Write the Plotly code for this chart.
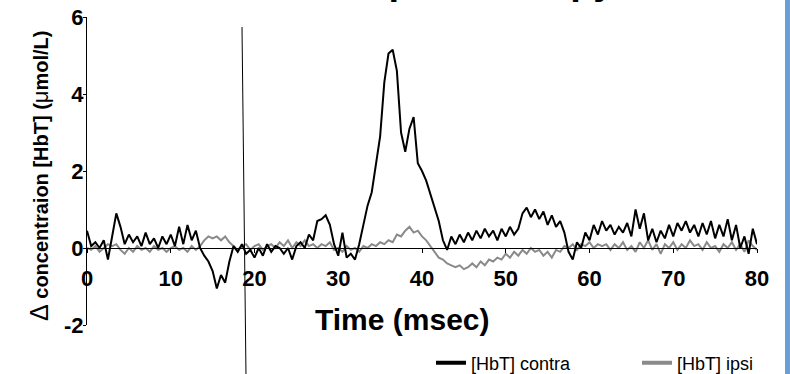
import plotly.graph_objects as go

# sample times (msec), regular 0.5 ms grid
time_ms = [i * 0.5 for i in range(161)]

hbt_contra = [
    0.45, 0.05, 0.15, 0.0, 0.2, -0.3, 0.3, 0.9, 0.55, 0.1,      # 0 - 4.5
    0.35, 0.15, 0.3, 0.05, 0.4, 0.1, 0.25, 0.0, 0.3, 0.1,       # 5 - 9.5
    0.35, 0.05, 0.55, 0.1, 0.6, 0.2, 0.45, 0.0, -0.2, -0.35,    # 10 - 14.5
    -0.6, -1.05, -0.7, -0.9, -0.35, 0.05, -0.1, 0.1, -0.15, -0.05,  # 15 - 19.5
    -0.25, 0.0, -0.2, 0.1, -0.1, 0.05, 0.0, -0.15, 0.0, -0.3,   # 20 - 24.5
    0.05, 0.15, 0.0, 0.35, 0.2, 0.7, 0.75, 0.85, 0.6, 0.1,      # 25 - 29.5
    -0.2, 0.4, -0.25, -0.15, -0.3, 0.1, 0.6, 1.1, 1.45, 2.2,    # 30 - 34.5
    2.9, 4.3, 5.05, 5.15, 4.6, 3.0, 2.5, 3.1, 3.4, 2.2,         # 35 - 39.5
    2.0, 1.75, 1.4, 1.05, 0.7, 0.2, -0.05, 0.3, 0.1, 0.35,      # 40 - 44.5
    0.15, 0.4, 0.2, 0.45, 0.25, 0.5, 0.3, 0.45, 0.2, 0.5,       # 45 - 49.5
    0.3, 0.55, 0.35, 0.5, 0.9, 1.05, 0.8, 1.0, 0.75, 0.95,      # 50 - 54.5
    0.6, 0.85, 0.55, 0.7, 0.4, -0.1, -0.3, 0.15, 0.0, 0.4,      # 55 - 59.5
    0.2, 0.6, 0.35, 0.7, 0.45, 0.6, 0.35, 0.55, 0.4, 0.65,      # 60 - 64.5
    0.3, 1.0, 0.5, 0.9, 0.2, 0.5, 0.15, 0.45, 0.25, 0.6,        # 65 - 69.5
    0.3, 0.65, 0.45, 0.7, 0.4, 0.6, 0.3, 0.65, 0.35, 0.7,       # 70 - 74.5
    0.25, 0.6, 0.3, 0.75, 0.2, 0.6, 0.0, 0.3, -0.15, 0.5,       # 75 - 79.5
    0.1,                                                        # 80
]

hbt_ipsi = [
    0.0, -0.05, 0.05, -0.1, 0.0, 0.1, 0.05, 0.1, -0.05, -0.15,  # 0 - 4.5
    0.0, -0.1, 0.05, -0.05, 0.0, -0.1, 0.05, -0.05, 0.0, -0.1,  # 5 - 9.5
    0.0, 0.05, -0.05, 0.0, -0.1, 0.05, -0.05, 0.05, 0.2, 0.3,   # 10 - 14.5
    0.25, 0.3, 0.2, 0.3, 0.15, 0.05, -0.05, 0.05, 0.1, -0.05,   # 15 - 19.5
    0.05, 0.1, -0.05, 0.05, 0.1, 0.0, 0.15, 0.05, 0.2, 0.0,     # 20 - 24.5
    0.15, 0.05, 0.2, 0.05, 0.1, 0.0, 0.1, 0.05, 0.15, -0.05,    # 25 - 29.5
    0.0, -0.1, 0.05, -0.05, 0.0, -0.1, 0.05, 0.0, 0.1, 0.05,    # 30 - 34.5
    0.15, 0.1, 0.2, 0.15, 0.35, 0.3, 0.45, 0.55, 0.4, 0.45,     # 35 - 39.5
    0.3, 0.2, 0.05, -0.1, -0.25, -0.3, -0.4, -0.45, -0.5, -0.45,  # 40 - 44.5
    -0.55, -0.5, -0.4, -0.5, -0.35, -0.45, -0.3, -0.35, -0.25, -0.3,  # 45 - 49.5
    -0.15, -0.25, -0.1, -0.2, -0.05, -0.15, 0.0, -0.1, -0.05, -0.2,  # 50 - 54.5
    -0.1, -0.25, -0.05, -0.1, 0.05, 0.0, 0.1, -0.05, 0.1, 0.05,  # 55 - 59.5
    0.15, 0.0, 0.1, 0.05, 0.1, -0.05, 0.1, 0.0, 0.15, -0.05,    # 60 - 64.5
    0.05, -0.1, 0.15, 0.0, 0.2, -0.05, 0.1, -0.15, 0.1, 0.0,    # 65 - 69.5
    0.15, -0.05, 0.1, 0.0, 0.2, 0.05, 0.1, -0.05, 0.15, 0.0,    # 70 - 74.5
    0.05, -0.1, 0.1, 0.0, 0.15, -0.05, 0.1, -0.1, 0.2, 0.05,    # 75 - 79.5
    -0.05,                                                      # 80
]

series_names = ["[HbT] contra", "[HbT] ipsi"]
x_ticks = [0, 10, 20, 30, 40, 50, 60, 70, 80]
y_ticks = [-2, 0, 2, 4, 6]

FONT = "Arial, 'Liberation Sans', sans-serif"
BLACK = "#000000"
GRAY = "#8a8a8a"

fig = go.Figure()
# data traces (gray under black)
fig.add_trace(go.Scatter(x=time_ms, y=hbt_ipsi, mode="lines", showlegend=False,
                         line=dict(color=GRAY, width=2)))
fig.add_trace(go.Scatter(x=time_ms, y=hbt_contra, mode="lines", showlegend=False,
                         line=dict(color=BLACK, width=2)))
# legend entries (thicker sample lines, no data)
fig.add_trace(go.Scatter(x=[None], y=[None], mode="lines", name=series_names[0],
                         line=dict(color=BLACK, width=4)))
fig.add_trace(go.Scatter(x=[None], y=[None], mode="lines", name=series_names[1],
                         line=dict(color=GRAY, width=4)))

fig.update_layout(
    width=790, height=374,
    margin=dict(l=87, r=33, t=17, b=49, autoexpand=False),
    paper_bgcolor="white", plot_bgcolor="white",
    font=dict(family=FONT, color="black"),
    showlegend=True,
    legend=dict(orientation="h", x=(431 - 87) / 670, xanchor="left",
                y=1 - (363 - 17) / 308, yanchor="middle",
                font=dict(size=18, family=FONT), entrywidth=161, entrywidthmode="pixels",
                bgcolor="rgba(0,0,0,0)", traceorder="normal", borderwidth=0),
    xaxis=dict(range=[0, 80], tickvals=x_ticks, ticktext=[str(v) for v in x_ticks],
               showgrid=False, zeroline=False, showline=True, linecolor="black", linewidth=1,
               ticks="outside", ticklen=4, tickcolor="black", ticklabelstandoff=7,
               tickfont=dict(size=22, family=FONT, weight="bold"),
               anchor="free", position=0.25),
    yaxis=dict(range=[-2, 6], tickvals=y_ticks, ticktext=[str(v) for v in y_ticks],
               showgrid=False, zeroline=False, showline=True, linecolor="black", linewidth=1,
               ticks="outside", ticklen=3, tickcolor="black", ticklabelstandoff=-5,
               tickfont=dict(size=22, family=FONT, weight="bold")),
)

# x axis title
fig.add_annotation(text="<b>Time (msec)</b>", xref="paper", yref="paper",
                   x=(402 - 87) / 670, y=1 - (319 - 17) / 308, xanchor="center", yanchor="middle",
                   showarrow=False, font=dict(size=30, family=FONT))
# y axis title
fig.add_annotation(text="<span style='font-weight:normal;font-size:25px'>Δ</span> <b>concentraion [HbT] (</b><span style='font-weight:normal;font-size:22px'>μ</span><b>mol/L)</b>",
                   xref="paper", yref="paper",
                   x=(39 - 87) / 670, y=1 - (176 - 17) / 308, xanchor="center", yanchor="middle",
                   textangle=-90, showarrow=False, font=dict(size=20, family=FONT))
# cropped title (only descenders visible)
fig.add_annotation(text="<b>Near-Infrared Spectroscopy</b>", xref="paper", yref="paper",
                   x=(617 - 87) / 670, y=1 - (4 - 17) / 308, xanchor="right", yanchor="bottom",
                   showarrow=False, font=dict(size=38, family=FONT))

# vertical marker line
fig.add_shape(type="line", xref="paper", yref="paper",
              x0=(242 - 87) / 670, y0=1 - (27 - 17) / 308,
              x1=(246 - 87) / 670, y1=1 - (376 - 17) / 308,
              line=dict(color="black", width=1))
# blue border on right edge
fig.add_shape(type="rect", xref="paper", yref="paper",
              x0=(785 - 87) / 670, x1=(792 - 87) / 670, y0=-0.3, y1=1.2,
              line=dict(width=0), fillcolor="#6a9fd4")

fig.write_html("out.html")
